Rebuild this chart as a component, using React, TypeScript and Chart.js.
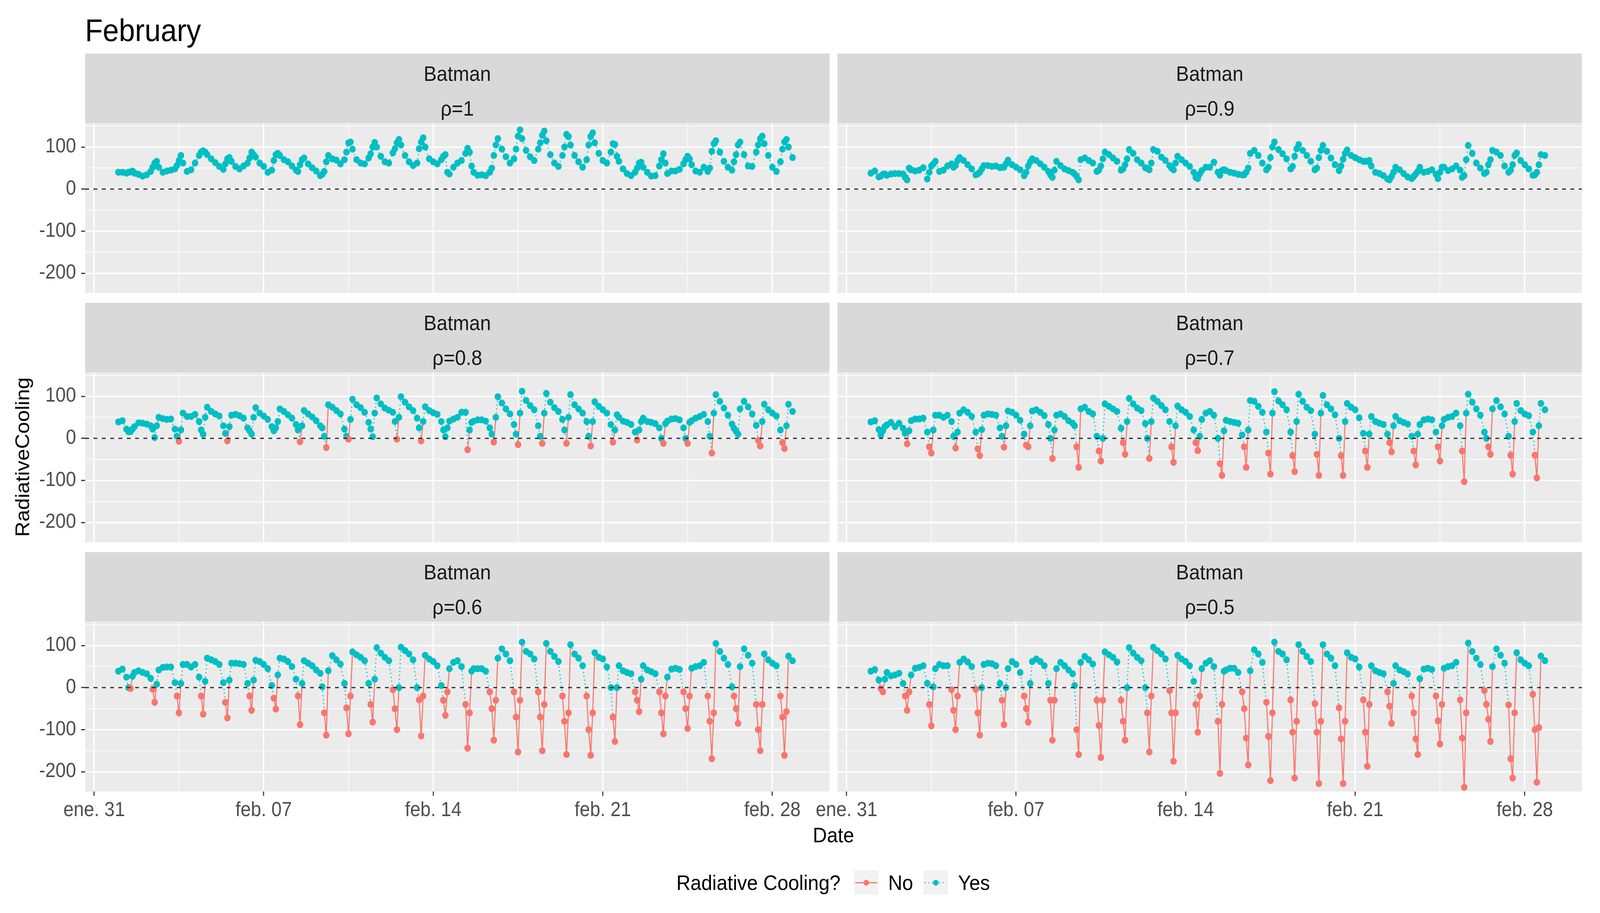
import { useEffect, useRef } from 'react'
import Chart from 'chart.js/auto'

const FONT = '"Liberation Sans", Arial, Helvetica, sans-serif'
const RED = '#F8766D'
const TEAL = '#00BFC4'

// sample hours read for every day of February
const HOURS = [0, 4, 8, 10, 12, 14, 16, 20]
const FEB_DAYS = [1, 2, 3, 4, 5, 6, 7, 8, 9, 10, 11, 12, 13, 14, 15, 16, 17, 18, 19, 20, 21, 22, 23, 24, 25, 26, 27, 28]

// x is days since Jan 31 00:00
const X_TICKS = [0, 3.5, 7, 10.5, 14, 17.5, 21, 24.5, 28]
const X_LABELS = ['ene. 31', '', 'feb. 07', '', 'feb. 14', '', 'feb. 21', '', 'feb. 28']
const Y_TICKS = [-200, -150, -100, -50, 0, 50, 100, 150]
const Y_LABELS = ['-200', '', '-100', '', '0', '', '100', '']

// one row per day, values at HOURS
const rho10 = [
  [40, 40, 38, 40, 41, 43, 38, 35], [31, 34, 42, 52, 62, 66, 52, 40], [43, 45, 48, 56, 68, 80, 62, 42],
  [46, 62, 80, 88, 91, 88, 82, 72], [63, 54, 47, 60, 72, 75, 66, 54], [48, 55, 62, 74, 88, 82, 76, 62],
  [54, 40, 45, 68, 82, 85, 80, 70], [65, 55, 45, 42, 58, 70, 74, 60], [51, 43, 32, 35, 42, 65, 80, 72],
  [69, 60, 70, 88, 110, 112, 95, 70], [62, 60, 74, 84, 100, 111, 100, 78], [65, 62, 86, 96, 110, 118, 105, 80],
  [65, 56, 62, 96, 112, 122, 100, 72], [65, 60, 70, 78, 82, 40, 36, 52], [62, 68, 85, 97, 88, 55, 40, 33],
  [34, 32, 40, 50, 80, 105, 120, 95], [77, 62, 72, 95, 126, 141, 120, 92], [77, 68, 95, 110, 128, 138, 115, 82],
  [62, 54, 80, 100, 130, 125, 105, 80], [65, 52, 70, 105, 125, 134, 110, 85], [68, 62, 88, 108, 106, 78, 66, 48],
  [37, 32, 40, 50, 62, 64, 52, 40], [31, 32, 55, 70, 84, 62, 37, 43], [43, 47, 60, 70, 78, 72, 58, 43],
  [40, 52, 42, 50, 90, 108, 115, 88], [66, 52, 45, 65, 82, 105, 112, 82], [55, 54, 88, 105, 120, 126, 108, 80],
  [52, 42, 65, 95, 112, 118, 100, 75],
]

const rho09 = [
  [38, 43, 29, 31, 35, 36, 33, 36], [37, 37, 36, 28, 22, 50, 46, 43], [45, 51, 24, 40, 55, 60, 66, 42],
  [45, 55, 60, 52, 56, 68, 75, 68], [58, 48, 34, 36, 40, 48, 56, 56], [54, 55, 51, 52, 52, 60, 69, 58],
  [52, 46, 32, 40, 55, 65, 72, 68], [60, 52, 42, 34, 28, 45, 66, 56], [48, 44, 40, 36, 30, 22, 70, 74],
  [68, 62, 42, 45, 55, 72, 88, 82], [74, 66, 45, 48, 58, 72, 94, 85], [70, 62, 51, 49, 46, 62, 94, 90],
  [76, 68, 56, 50, 46, 62, 78, 70], [62, 54, 40, 28, 25, 36, 44, 52], [52, 64, 40, 33, 44, 46, 44, 40],
  [38, 35, 34, 34, 40, 50, 85, 92], [80, 62, 46, 52, 75, 100, 112, 94], [84, 72, 48, 54, 78, 96, 106, 92],
  [80, 66, 46, 50, 75, 92, 104, 90], [74, 58, 44, 55, 71, 85, 93, 80], [75, 70, 66, 66, 66, 68, 55, 40],
  [37, 32, 24, 22, 30, 40, 52, 46], [37, 29, 25, 30, 36, 42, 52, 40], [42, 46, 35, 25, 40, 52, 52, 44],
  [48, 55, 45, 28, 32, 70, 104, 85], [62, 50, 37, 40, 58, 70, 92, 88], [80, 55, 40, 45, 58, 80, 86, 68],
  [58, 48, 33, 34, 40, 58, 82, 80],
]

const rho08 = [
  [39, 42, 22, 16, 16, 22, 28, 37], [36, 34, 30, 22, 2, 30, 50, 47], [45, 46, 22, 5, -7, 20, 60, 52],
  [52, 57, 40, 20, 10, 50, 74, 64], [58, 53, 30, 12, -6, 28, 55, 57], [54, 48, 25, 18, 10, 50, 73, 60],
  [53, 45, 28, 18, 25, 40, 70, 64], [56, 48, 33, 20, -8, 30, 66, 58], [51, 42, 30, 25, 5, -22, 80, 74],
  [66, 58, 22, 5, -2, 45, 93, 80], [73, 62, 38, 22, 4, 60, 96, 82], [72, 67, 62, 40, -2, 50, 99, 86],
  [75, 66, 48, 25, -6, 40, 75, 66], [61, 57, 40, 20, 4, 25, 41, 46], [50, 62, 62, -27, 20, 38, 41, 44],
  [44, 41, 25, 10, -9, 50, 99, 84], [70, 58, 33, 10, -15, 60, 112, 90], [78, 68, 30, 5, -12, 60, 107, 86],
  [73, 64, 45, 20, -12, 50, 104, 80], [70, 60, 40, 5, -18, 40, 87, 76], [68, 60, 33, -9, 20, 56, 50, 41],
  [38, 33, 15, -4, 20, 40, 48, 40], [38, 35, 25, 0, -12, 35, 41, 46], [47, 44, 25, 0, -12, 38, 42, 48],
  [52, 57, 40, 5, -35, 60, 104, 88], [72, 55, 34, 24, 17, 10, 70, 88], [75, 58, 31, -5, -18, 40, 81, 68],
  [60, 53, 20, -10, -24, 30, 81, 64],
]

const rho07 = [
  [39, 42, 21, 8, 18, 28, 32, 38], [28, 36, 24, 12, -13, 18, 42, 46], [46, 48, 15, -20, -35, 20, 55, 55],
  [50, 55, 40, 5, -23, 15, 60, 68], [62, 52, 15, -25, -41, 21, 55, 58], [57, 55, 25, 5, -21, 30, 65, 62],
  [55, 43, 10, -16, -20, 30, 65, 68], [62, 54, 33, 0, -48, 20, 55, 58], [52, 42, 36, 30, -20, -69, 70, 74],
  [64, 58, 5, -30, -54, 0, 82, 76], [70, 64, 24, -10, -38, 40, 95, 82], [72, 66, 35, 0, -48, 40, 96, 88],
  [78, 68, 40, -20, -57, 30, 77, 68], [62, 52, 20, -10, -29, 5, 45, 60], [64, 55, 0, -60, -88, 18, 43, 40],
  [38, 36, 8, -20, -69, 20, 90, 88], [76, 62, 15, -35, -85, 60, 111, 89], [80, 68, 15, -41, -79, 40, 105, 88],
  [74, 66, 10, -38, -88, 60, 102, 80], [70, 56, 0, -41, -88, 40, 83, 74], [68, 49, 12, -30, -69, 10, 52, 40],
  [36, 33, 10, -10, -32, 30, 52, 42], [38, 34, 5, -30, -63, 10, 33, 44], [46, 44, 15, -20, -54, 30, 45, 50],
  [52, 60, 30, -30, -103, 60, 105, 86], [70, 55, 15, 0, -20, -38, 70, 90], [75, 58, 5, -40, -85, 40, 83, 66],
  [58, 54, 15, -40, -94, 30, 83, 68],
]

const rho06 = [
  [39, 44, 25, 0, -2, 27, 36, 40], [36, 33, 22, -4, -35, 8, 42, 48], [49, 49, 12, -20, -60, 10, 55, 55],
  [49, 55, 25, -20, -63, 15, 70, 66], [62, 55, 12, -35, -72, 18, 58, 58], [57, 55, 10, -20, -54, 18, 65, 62],
  [55, 45, 5, -25, -51, 30, 70, 68], [62, 50, 20, -20, -88, 10, 64, 58], [52, 42, 34, 2, -60, -113, 40, 76],
  [66, 56, 10, -48, -110, -20, 85, 78], [72, 64, 10, -40, -82, 20, 95, 82], [72, 64, -5, -50, -100, 0, 96, 88],
  [80, 66, 0, -29, -115, -20, 77, 68], [62, 52, 5, -30, -66, -10, 45, 60], [64, 50, -40, -144, -60, 39, 45, 45],
  [45, 39, -10, -50, -125, -30, 70, 92], [80, 64, -10, -70, -153, -30, 108, 86], [80, 68, -10, -70, -150, -40, 105, 86],
  [74, 62, -20, -80, -159, -60, 102, 80], [70, 52, -20, -100, -161, -60, 83, 72], [68, 49, 0, -70, -128, 0, 52, 40],
  [36, 33, -10, -30, -57, 20, 52, 42], [38, 33, -10, -60, -110, -20, 25, 44], [46, 43, -10, -50, -97, -20, 46, 50],
  [52, 60, -20, -80, -169, -60, 105, 86], [70, 55, 2, -20, -50, -85, 50, 92], [77, 58, -40, -100, -150, -40, 80, 66],
  [58, 52, -20, -70, -161, -57, 75, 64],
]

const rho05 = [
  [39, 43, 18, -2, -10, 20, 36, 28], [30, 34, 10, -20, -54, -10, 30, 46], [48, 52, 10, -40, -91, 2, 45, 55],
  [52, 52, -5, -54, -100, -20, 60, 68], [61, 50, -4, -60, -113, 0, 55, 58], [57, 52, 10, -30, -88, 0, 45, 62],
  [55, 36, -20, -50, -82, 10, 62, 68], [62, 52, 10, -30, -125, -30, 45, 60], [52, 42, 33, 5, -100, -159, 60, 74],
  [66, 56, -30, -90, -166, -30, 85, 78], [72, 61, -30, -80, -125, 0, 95, 82], [72, 64, 0, -60, -153, -20, 96, 88],
  [80, 68, -7, -60, -175, -60, 77, 68], [62, 52, 15, -40, -106, -20, 45, 58], [64, 50, -80, -204, -40, 39, 42, 46],
  [46, 36, -10, -50, -120, -184, 40, 90], [80, 60, -35, -116, -221, -60, 108, 86], [80, 66, -29, -106, -215, -80, 102, 86],
  [74, 62, -38, -106, -228, -80, 102, 80], [70, 52, -48, -122, -228, -80, 83, 72], [68, 49, -29, -106, -187, -40, 52, 40],
  [36, 33, -10, -44, -85, 10, 52, 42], [38, 32, -20, -60, -122, -159, 21, 44], [46, 43, -20, -79, -134, -40, 46, 50],
  [52, 60, -29, -120, -237, -60, 106, 86], [70, 55, -7, -40, -75, -128, 50, 92], [77, 58, -41, -169, -215, -60, 83, 66],
  [58, 52, -16, -100, -225, -95, 75, 64],
]

const PANELS = [
  { rho: 'ρ=1', values: rho10, row: 0, col: 0 },
  { rho: 'ρ=0.9', values: rho09, row: 0, col: 1 },
  { rho: 'ρ=0.8', values: rho08, row: 1, col: 0 },
  { rho: 'ρ=0.7', values: rho07, row: 1, col: 1 },
  { rho: 'ρ=0.6', values: rho06, row: 2, col: 0 },
  { rho: 'ρ=0.5', values: rho05, row: 2, col: 1 },
]

// layout in reference pixels; the whole page is scaled to fill the viewport
const PAGE_W = 4419
const PAGE_H = 2337
const PLOT_W = 2056
const PLOT_H = 435
const COL_LEFT = [235, 2313]
const ROW_TOP = [315, 953, 1591]
const STRIP_H = 89
const MARGIN = 60

const panelBackground = {
  id: 'panelBackground',
  beforeDraw(chart: Chart) {
    const { ctx, chartArea: a } = chart
    ctx.save()
    ctx.fillStyle = '#EBEBEB'
    ctx.fillRect(a.left, a.top, a.right - a.left, a.bottom - a.top)
    ctx.restore()
  },
}

const zeroLine = {
  id: 'zeroLine',
  afterDatasetsDraw(chart: Chart) {
    const { ctx, chartArea: a } = chart
    const y = chart.scales.y.getPixelForValue(0)
    ctx.save()
    ctx.strokeStyle = '#262626'
    ctx.lineWidth = 3
    ctx.setLineDash([11, 12])
    ctx.beginPath()
    ctx.moveTo(a.left, y)
    ctx.lineTo(a.right, y)
    ctx.stroke()
    ctx.restore()
  },
}

function FacetPanel({ rho, values, row, col }: { rho: string; values: number[][]; row: number; col: number }) {
  const canvasRef = useRef<HTMLCanvasElement>(null)
  const isLeft = col === 0
  const isBottom = row === 2
  const axisW = isLeft ? 235 : 120
  const padRight = 40
  const axisH = isBottom ? 130 : 0
  const padBottom = isBottom ? 0 : MARGIN
  const width = axisW + PLOT_W + padRight
  const height = MARGIN + PLOT_H + axisH + padBottom

  useEffect(() => {
    if (!canvasRef.current) return
    const points: { x: number; y: number }[] = []
    values.forEach((day, i) => {
      day.forEach((v, j) => points.push({ x: FEB_DAYS[i] + HOURS[j] / 24, y: v }))
    })

    const chart = new Chart(canvasRef.current, {
      type: 'line',
      data: {
        datasets: [
          {
            data: points,
            borderWidth: 3,
            borderColor: TEAL,
            borderDash: [],
            tension: 0,
            pointRadius: 9,
            pointHoverRadius: 9,
            pointBorderWidth: 0,
            pointBackgroundColor: (c: any) => (c.parsed && c.parsed.y < 0 ? RED : TEAL),
            segment: {
              borderColor: (c: any) => (c.p0.parsed.y < 0 ? RED : TEAL),
              borderDash: (c: any) => (c.p0.parsed.y < 0 ? [] : [3, 7]),
            },
          },
        ],
      },
      options: {
        animation: false,
        responsive: false,
        events: [],
        layout: { padding: { left: 0, right: padRight, top: MARGIN, bottom: padBottom }, autoPadding: false },
        plugins: { legend: { display: false }, tooltip: { enabled: false } },
        scales: {
          x: {
            type: 'linear',
            bounds: 'data',
            min: -0.374,
            max: 30.36,
            afterBuildTicks: (s: any) => {
              s.ticks = X_TICKS.map((v) => ({ value: v }))
            },
            afterFit: (s: any) => {
              s.height = axisH
            },
            border: { display: false },
            grid: {
              color: '#FFFFFF',
              lineWidth: (c: any) => (X_LABELS[c.index] ? 3.6 : 1.8),
              drawTicks: isBottom,
              tickLength: 11,
              tickWidth: 3,
              tickColor: (c: any) => (X_LABELS[c.index] ? '#333333' : 'rgba(0,0,0,0)'),
            },
            ticks: {
              display: isBottom,
              autoSkip: false,
              maxRotation: 0,
              padding: 7,
              color: '#4D4D4D',
              font: { family: FONT, size: 51 },
              callback: (_v: any, i: number) => X_LABELS[i],
            },
          },
          y: {
            type: 'linear',
            bounds: 'data',
            min: -247,
            max: 157,
            afterBuildTicks: (s: any) => {
              s.ticks = Y_TICKS.map((v) => ({ value: v }))
            },
            afterFit: (s: any) => {
              s.width = axisW
            },
            border: { display: false },
            grid: {
              color: '#FFFFFF',
              lineWidth: (c: any) => (Y_LABELS[c.index] ? 3.6 : 1.8),
              drawTicks: isLeft,
              tickLength: 11,
              tickWidth: 3,
              tickColor: (c: any) => (Y_LABELS[c.index] ? '#333333' : 'rgba(0,0,0,0)'),
            },
            ticks: {
              display: isLeft,
              autoSkip: false,
              padding: 14,
              color: '#4D4D4D',
              font: { family: FONT, size: 51 },
              callback: (_v: any, i: number) => Y_LABELS[i],
            },
          },
        },
      } as any,
      plugins: [panelBackground, zeroLine],
    })

    return () => {
      chart.destroy()
    }
  }, [values, axisW, axisH, isLeft, isBottom, padBottom])

  const stripTop = ROW_TOP[row] - 2 * STRIP_H
  const stripText = { position: 'absolute' as const, left: 0, width: PLOT_W, textAlign: 'center' as const, lineHeight: '54px' }

  return (
    <>
      <div
        style={{
          position: 'absolute',
          left: COL_LEFT[col],
          top: stripTop,
          width: PLOT_W,
          height: 2 * STRIP_H,
          background: '#D9D9D9',
          color: '#1A1A1A',
          fontFamily: FONT,
          fontSize: 54,
        }}
      >
        <div style={{ ...stripText, top: 24 }}>Batman</div>
        <div style={{ ...stripText, top: 24 + STRIP_H }}>{rho}</div>
      </div>
      <canvas
        ref={canvasRef}
        width={width}
        height={height}
        style={{ position: 'absolute', left: COL_LEFT[col] - axisW, top: ROW_TOP[row] - MARGIN, width, height }}
      />
    </>
  )
}

function LegendKey({ color, dotted, left }: { color: string; dotted: boolean; left: number }) {
  return (
    <div style={{ position: 'absolute', left, top: 2228, width: 67, height: 62, background: '#F2F2F2' }}>
      <div
        style={{
          position: 'absolute',
          left: 3,
          top: 30,
          width: 61,
          height: 3,
          background: dotted ? `repeating-linear-gradient(to right, ${color} 0 3px, transparent 3px 10px)` : color,
        }}
      />
      <div
        style={{ position: 'absolute', left: 26, top: 24, width: 15, height: 15, borderRadius: '50%', background: color }}
      />
    </div>
  )
}

export default function App() {
  const hasWin = typeof window !== 'undefined' && window.innerWidth > 0 && window.innerHeight > 0
  const sx = hasWin ? window.innerWidth / PAGE_W : 1
  const sy = hasWin ? window.innerHeight / PAGE_H : 1
  const text = { position: 'absolute' as const, fontFamily: FONT, whiteSpace: 'nowrap' as const }
  return (
    <div
      style={{
        position: 'fixed',
        left: 0,
        top: 0,
        width: '100vw',
        height: '100vh',
        overflow: 'hidden',
        background: '#FFFFFF',
      }}
    >
      <div
        style={{
          position: 'absolute',
          left: 0,
          top: 0,
          width: PAGE_W,
          height: PAGE_H,
          transform: `scale(${sx}, ${sy})`,
          transformOrigin: '0 0',
          background: '#FFFFFF',
        }}
      >
        <div style={{ ...text, left: 235, top: 38, fontSize: 80, lineHeight: '80px', color: '#000' }}>February</div>

        {PANELS.map((p) => (
          <FacetPanel key={p.rho} rho={p.rho} values={p.values} row={p.row} col={p.col} />
        ))}

        <div style={{ position: 'absolute', left: 62, top: 1170, width: 0, height: 0 }}>
          <div
            style={{
              ...text,
              left: 0,
              top: 0,
              fontSize: 54,
              lineHeight: '54px',
              color: '#000',
              transform: 'translate(-50%, -50%) rotate(-90deg)',
            }}
          >
            RadiativeCooling
          </div>
        </div>

        <div
          style={{ ...text, left: 2302, top: 2110, fontSize: 54, lineHeight: '54px', color: '#000', transform: 'translateX(-50%)' }}
        >
          Date
        </div>

        <div style={{ ...text, left: 1868, top: 2232, fontSize: 54, lineHeight: '54px', color: '#000' }}>Radiative Cooling?</div>
        <LegendKey color={RED} dotted={false} left={2359} />
        <div style={{ ...text, left: 2453, top: 2232, fontSize: 54, lineHeight: '54px', color: '#000' }}>No</div>
        <LegendKey color={TEAL} dotted left={2551} />
        <div style={{ ...text, left: 2646, top: 2232, fontSize: 54, lineHeight: '54px', color: '#000' }}>Yes</div>
      </div>
    </div>
  )
}
